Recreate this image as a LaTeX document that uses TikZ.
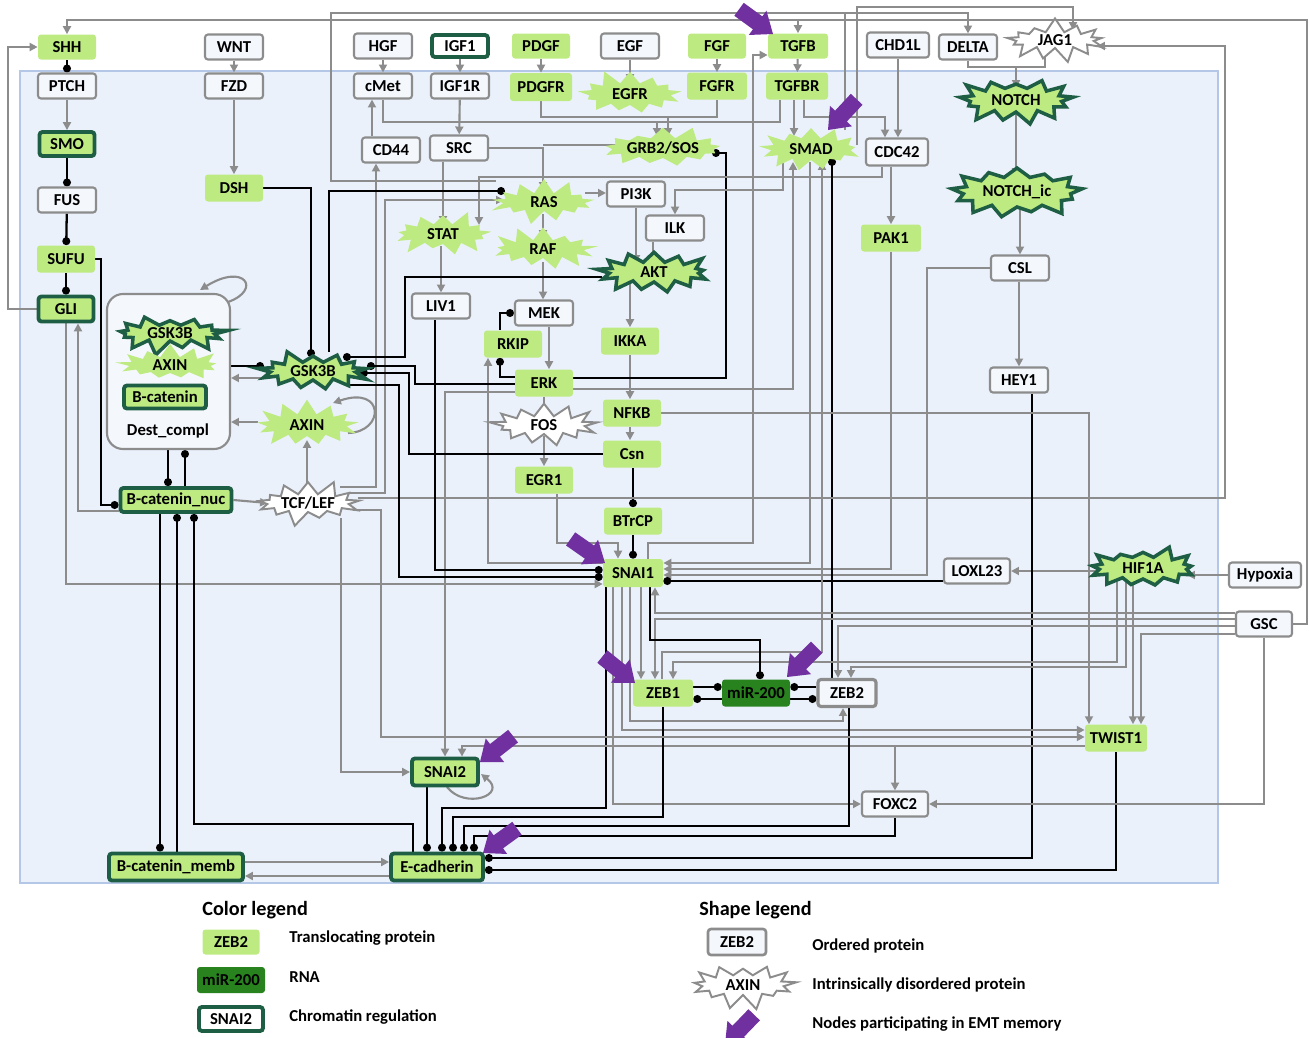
\documentclass[tikz,border=0pt]{standalone}
\usepackage{fontspec}
\setmainfont{Carlito}
\usetikzlibrary{arrows.meta,shapes.symbols,positioning}

\definecolor{leafgreen}{RGB}{190,234,130}
\definecolor{chromgreen}{RGB}{30,94,68}
\definecolor{rnagreen}{RGB}{40,130,30}
\definecolor{wiregray}{RGB}{140,140,140}
\definecolor{cellblue}{RGB}{234,241,251}
\definecolor{celledge}{RGB}{180,199,231}
\definecolor{boxwhite}{RGB}{244,247,252}
\definecolor{emtpurple}{RGB}{112,48,160}

\newdimen\unitpx
\unitpx=0.02cm
\newcommand{\nodefont}{\fontsize{9.5}{10}\selectfont\bfseries}
\newcommand{\legendfont}{\fontsize{9.5}{11}\selectfont\bfseries}
\newcommand{\titlefont}{\fontsize{11.5}{13}\selectfont\bfseries}

\pgfdeclarelayer{frame}
\pgfdeclarelayer{wires}
\pgfsetlayers{frame,wires,main}

\tikzset{
  gene/.style={rounded corners=3\unitpx, inner sep=0pt, minimum height=25\unitpx,
    minimum width=58\unitpx, font=\nodefont},
  ordered/.style={gene, draw=wiregray, line width=1.2pt, fill=boxwhite},
  transl/.style={gene, fill=leafgreen},
  chrom/.style={gene, fill=leafgreen, draw=chromgreen, line width=2.2pt},
  chromwhite/.style={chrom, fill=white},
  rna/.style={gene, fill=rnagreen},
  burst/.style={starburst, starburst points=13, starburst point height=15\unitpx,
    inner sep=0pt, font=\nodefont, miter limit=20},
  greenburst/.style={burst, fill=leafgreen},
  darkburst/.style={burst, fill=leafgreen, draw=chromgreen, line width=2pt},
  whiteburst/.style={burst, fill=white, draw=wiregray, line width=1.1pt},
  wire/.style={draw=wiregray, line width=1.2pt},
  act/.style={wire, -{Triangle[length=4.5pt, width=4.5pt]}},
  inh/.style={draw=black, line width=1.3pt, -{Circle[length=4.5pt]}},
  legtext/.style={font=\legendfont, anchor=west, inner sep=0pt},
  emt/.pic={\fill[emtpurple] (0,0) -- (-19,-15) -- (-19,-8) -- (-42,-8)
    -- (-42,8) -- (-19,8) -- (-19,15) -- cycle;}
}

\begin{document}
\begin{tikzpicture}[x=0.02cm, y=-0.02cm]

    \useasboundingbox (0,0) rectangle (1309,1038);

    % the cell
    \begin{pgfonlayer}{frame}
        \fill[cellblue] (20,71) rectangle (1218,883);
        \draw[celledge, line width=1.3pt] (20,71) rectangle (1218,883);
    \end{pgfonlayer}

    % ligands
    \node[transl] (SHH) at (67,47) {SHH};
    \node[ordered] (WNT) at (234,47) {WNT};
    \node[ordered] (HGF) at (383,46) {HGF};
    \node[chromwhite, minimum width=56\unitpx, minimum height=22\unitpx] (IGF1) at (460,46) {IGF1};
    \node[transl] (PDGF) at (541,46) {PDGF};
    \node[ordered] (EGF) at (630,46) {EGF};
    \node[transl] (FGF) at (717,46) {FGF};
    \node[transl, minimum width=60\unitpx] (TGFB) at (798,46) {TGFB};
    \node[ordered, minimum width=62\unitpx] (CHD1L) at (898,45) {CHD1L};
    \node[ordered] (DELTA) at (968,47) {DELTA};
    \node[whiteburst, minimum width=108\unitpx, minimum height=46\unitpx, random starburst=7] (JAG1) at (1055,40) {JAG1};

    % receptors
    \node[ordered] (PTCH) at (67,86) {PTCH};
    \node[ordered] (FZD) at (234,86) {FZD};
    \node[ordered] (cMet) at (383,86) {cMet};
    \node[ordered] (IGF1R) at (460,86) {IGF1R};
    \node[transl, minimum width=62\unitpx, minimum height=28\unitpx] (PDGFR) at (541,87) {PDGFR};
    \node[greenburst, minimum width=112\unitpx, minimum height=52\unitpx, random starburst=11] (EGFR) at (630,94) {EGFR};
    \node[transl, minimum width=60\unitpx, minimum height=27\unitpx] (FGFR) at (717,86) {FGFR};
    \node[transl, minimum width=62\unitpx, minimum height=27\unitpx] (TGFBR) at (797,86) {TGFBR};
    \node[darkburst, minimum width=122\unitpx, minimum height=54\unitpx, random starburst=23] (NOTCH) at (1016,100) {NOTCH};

    % signalling
    \node[chrom, minimum width=55\unitpx, minimum height=24\unitpx] (SMO) at (67,144) {SMO};
    \node[ordered] (CD44) at (391,150) {CD44};
    \node[ordered] (SRC) at (459,148) {SRC};
    \node[greenburst, minimum width=120\unitpx, minimum height=50\unitpx, random starburst=31] (GRB2) at (663,148) {GRB2/SOS};
    \node[greenburst, minimum width=110\unitpx, minimum height=52\unitpx, random starburst=41] (SMAD) at (811,149) {SMAD};
    \node[ordered, minimum width=62\unitpx, minimum height=27\unitpx] (CDC42) at (897,152) {CDC42};
    \node[transl, minimum height=27\unitpx] (DSH) at (234,188) {DSH};
    \node[ordered] (FUS) at (67,200) {FUS};
    \node[greenburst, minimum width=112\unitpx, minimum height=48\unitpx, random starburst=53] (RAS) at (544,202) {RAS};
    \node[ordered] (PI3K) at (636,194) {PI3K};
    \node[darkburst, minimum width=138\unitpx, minimum height=60\unitpx, random starburst=61] (NOTCHic) at (1017,192) {NOTCH\_ic};
    \node[greenburst, minimum width=108\unitpx, minimum height=50\unitpx, random starburst=71] (STAT) at (443,234) {STAT};
    \node[ordered] (ILK) at (675,228) {ILK};
    \node[transl, minimum width=60\unitpx, minimum height=27\unitpx] (PAK1) at (891,238) {PAK1};
    \node[greenburst, minimum width=112\unitpx, minimum height=48\unitpx, random starburst=83] (RAF) at (543,249) {RAF};
    \node[transl, minimum height=27\unitpx] (SUFU) at (66,259) {SUFU};
    \node[darkburst, minimum width=120\unitpx, minimum height=50\unitpx, random starburst=97] (AKT) at (654,272) {AKT};
    \node[ordered] (CSL) at (1020,268) {CSL};
    \node[chrom, minimum width=55\unitpx, minimum height=25\unitpx] (GLI) at (66,309) {GLI};
    \node[ordered] (LIV1) at (441,306) {LIV1};
    \node[ordered] (MEK) at (544,313) {MEK};

    % destruction complex
    \node[draw=wiregray, line width=1.2pt, fill=boxwhite, rounded corners=16\unitpx,
          minimum width=123\unitpx, minimum height=155\unitpx] (Dest) at (168.5,371.5) {};
    \node[darkburst, minimum width=120\unitpx, minimum height=46\unitpx, random starburst=13] (GSK3Bc) at (170,333) {GSK3B};
    \node[greenburst, minimum width=112\unitpx, minimum height=46\unitpx, random starburst=17] (AXINc) at (170,365) {AXIN};
    \node[chrom, minimum width=82\unitpx, minimum height=23\unitpx] (Bcat) at (165,397) {B-catenin};
    \node[font=\nodefont] (Destlabel) at (168,431) {Dest\_compl};

    \node[transl, minimum height=27\unitpx] (RKIP) at (513,344) {RKIP};
    \node[transl, minimum height=27\unitpx] (IKKA) at (630,341) {IKKA};
    \node[darkburst, minimum width=116\unitpx, minimum height=48\unitpx, random starburst=29] (GSK3B) at (313,371) {GSK3B};
    \node[transl, minimum height=27\unitpx] (ERK) at (544,383) {ERK};
    \node[ordered] (HEY1) at (1019,380) {HEY1};
    \node[transl, minimum height=27\unitpx] (NFKB) at (632,413) {NFKB};
    \node[whiteburst, minimum width=112\unitpx, minimum height=48\unitpx, random starburst=37] (FOS) at (544,425) {FOS};
    \node[greenburst, minimum width=110\unitpx, minimum height=52\unitpx, random starburst=43] (AXIN) at (307,425) {AXIN};
    \node[transl, minimum height=27\unitpx] (Csn) at (632,454) {Csn};
    \node[transl, minimum height=27\unitpx] (EGR1) at (544,480) {EGR1};
    \node[chrom, minimum width=111\unitpx, minimum height=24\unitpx] (Bnuc) at (176,500) {B-catenin\_nuc};
    \node[whiteburst, minimum width=112\unitpx, minimum height=48\unitpx, random starburst=47] (TCF) at (308,503) {TCF/LEF};
    \node[transl, minimum height=27\unitpx] (BTrCP) at (633,521) {BTrCP};

    % EMT transcription factors
    \node[transl, minimum width=60\unitpx, minimum height=28\unitpx] (SNAI1) at (633,573) {SNAI1};
    \node[ordered, minimum width=66\unitpx] (LOXL23) at (977,571) {LOXL23};
    \node[darkburst, minimum width=118\unitpx, minimum height=52\unitpx, random starburst=59] (HIF1A) at (1143,568) {HIF1A};
    \node[ordered, minimum width=72\unitpx] (Hypoxia) at (1265,575) {Hypoxia};
    \node[ordered, minimum width=56\unitpx] (GSC) at (1264,624) {GSC};
    \node[transl, minimum width=60\unitpx, minimum height=27\unitpx] (ZEB1) at (663,693) {ZEB1};
    \node[rna, minimum width=68\unitpx, minimum height=27\unitpx] (miR200) at (756,693) {miR-200};
    \node[ordered, line width=1.8pt, minimum height=27\unitpx] (ZEB2) at (847,693) {ZEB2};
    \node[transl, minimum width=62\unitpx, minimum height=27\unitpx] (TWIST1) at (1116,738) {TWIST1};
    \node[chrom, minimum width=66\unitpx, minimum height=27\unitpx] (SNAI2) at (445,772) {SNAI2};
    \node[ordered, minimum width=66\unitpx] (FOXC2) at (895,804) {FOXC2};
    \node[chrom, minimum width=134\unitpx, minimum height=27\unitpx] (Bmemb) at (176,867) {B-catenin\_memb};
    \node[chrom, minimum width=92\unitpx, minimum height=27\unitpx] (Ecad) at (437,867) {E-cadherin};

    \begin{pgfonlayer}{wires}
        % hedgehog
        \draw[inh] (SHH) -- (PTCH);
        \draw[act] (PTCH) -- (SMO);
        \draw[inh] (SMO) -- (FUS);
        \draw[inh] (FUS) -- (SUFU);
        \draw[inh] (SUFU) -- (GLI);
        \draw[act] (GLI.west) -| (8,47) -- (SHH.west);
        \draw[inh] (SUFU.east) -| (101,505) -- (Bnuc.west |- 0,505);
        \draw[act] (Bnuc.west |- 0,511) -| (GLI.south -| 78,0);
        \draw[act] (GLI.south) |- (SNAI1.west |- 0,584);

        % wnt
        \draw[act] (WNT) -- (FZD);
        \draw[act] (FZD) -- (DSH);
        \draw[inh] (DSH.east) -| (311,357);

        % receptors
        \draw[act] (HGF) -- (cMet);
        \draw[act] (IGF1) -- (IGF1R);
        \draw[act] (PDGF) -- (PDGFR);
        \draw[act] (EGF) -- (630,82);
        \draw[act] (FGF) -- (FGFR);
        \draw[act] (TGFB) -- (TGFBR);
        \draw[act] (CD44.north -| 372,0) -- (cMet.south -| 372,0);
        \draw[act] (IGF1R) -- (SRC);
        \draw[act] (cMet.south) |- (657,122) -- (657,136);
        \draw[act] (PDGFR.south) |- (668,117) -- (668,136);
        \draw[wire] (FGFR.south) |- (668,117);
        \draw[wire] (TGFBR.south -| 780,0) |- (657,122);
        \draw[act] (TGFBR.south -| 794,0) -- (794,136);
        \draw[act] (TGFBR.south -| 804,0) |- (885,117) -- (CDC42.north -| 885,0);
        \draw[act] (CHD1L.south -| 898,0) -- (CDC42.north -| 898,0);

        % ras / pi3k
        \draw[act] (SRC.east) -| (543,190);
        \draw[wire] (625,145) -- (543,145);
        \draw[act] (SRC.south -| 443,0) -- (443,224);
        \draw[act] (441,246) -- (LIV1.north -| 441,0);
        \draw[act] (585,193) -- (PI3K.west |- 0,193);
        \draw[act] (543,214) -- (543,238);
        \draw[act] (543,262) -- (MEK.north -| 543,0);
        \draw[act] (MEK.south -| 549,0) -- (ERK.north -| 549,0);
        \draw[act] (PI3K.south -| 636,0) -- (636,263);
        \draw[act] (ILK.south -| 653,0) -- (653,263);
        \draw[act] (630,284) -- (IKKA.north -| 630,0);
        \draw[act] (IKKA.south -| 630,0) -- (NFKB.north -| 630,0);
        \draw[act] (NFKB.south -| 630,0) -- (Csn.north -| 630,0);
        \draw[inh] (Csn.south -| 633,0) -- (BTrCP.north -| 633,0);
        \draw[inh] (BTrCP) -- (SNAI1);
        \draw[act] (ERK.south) -- (544,415);
        \draw[act] (544,436) -- (EGR1.north);
        \draw[act] (EGR1.south -| 557,0) |- (618,543) -- (SNAI1.north -| 618,0);
        \draw[inh] (RKIP.north -| 500,0) |- (MEK.west |- 0,313);
        \draw[inh] (ERK.west |- 0,377) -| (RKIP.south -| 500,0);
        \draw[act] (SNAI1.west |- 0,563) -| (RKIP.south -| 488,0);
        \draw[inh] (ERK.east |- 0,378) -| (726,153) -- (712,153);
        \draw[act] (ERK.east |- 0,389) -| (793,162);
        \draw[act] (SNAI1.north -| 648,0) |- (753,543) |- (TGFB.west |- 0,55);
        \draw[act] (CDC42.south -| 882,0) |- (479,177) -- (479,225);
        \draw[act] (783,160) |- (675,190) -- (ILK.north -| 675,0);
        \draw[act] (CDC42.south -| 891,0) -- (PAK1.north);

        % into snai1
        \draw[act] (810,162) |- (SNAI1.east |- 0,563);
        \draw[act] (PAK1.south) |- (SNAI1.east |- 0,569);
        \draw[act] (CSL.west) -| (927,575) -- (SNAI1.east |- 0,575);
        \draw[inh] (LOXL23.west |- 0,581) -- (SNAI1.east |- 0,581);
        \draw[act] (1098,571) -- (LOXL23.east);
        \draw[act] (Hypoxia.west) -- (1187,575);
        \draw[inh] (ZEB2.north -| 832,0) -- (832,158);
        \draw[act] (ZEB1.north -| 662,0) |- (822,652) -- (822,162);

        % top lines
        \draw[act] (857,145) |- (1073,7) -- (1073,30);
        \draw[act] (496,181) -| (331,13) -| (DELTA.north);
        \draw[wire] (845,130) -- (845,13);
        \draw[act] (GSC.east) -| (1307,20) -| (SHH.north);
        \draw[act] (798,20) -- (TGFB.north);
        \draw[act] (358,498) -| (1225,46) -- (1097,46);

        % notch
        \draw[act] (DELTA.south) |- (1016,67) -- (1016,88);
        \draw[wire] (1045,57) |- (1016,67);
        \draw[act] (1016,112) -- (1016,176);
        \draw[act] (1020,206) -- (CSL.north -| 1020,0);
        \draw[act] (CSL.south -| 1019,0) -- (HEY1.north -| 1019,0);
        \draw[inh] (HEY1.south -| 1032,0) |- (Ecad.east |- 0,858);
        \draw[inh] (TWIST1.south) |- (Ecad.east |- 0,870);

        % twist1, zeb, gsc, hif1a
        \draw[act] (NFKB.east) -| (TWIST1.north -| 1089,0);
        \draw[act] (1117,582) |- (673,662) -- (ZEB1.north -| 673,0);
        \draw[act] (1126,582) |- (851,667) -- (ZEB2.north -| 851,0);
        \draw[act] (1133,582) -- (TWIST1.north -| 1133,0);
        \draw[act] (GSC.west |- 0,613) -| (SNAI1.south -| 655,0);
        \draw[act] (GSC.west |- 0,619) -| (ZEB1.north -| 655,0);
        \draw[act] (GSC.west |- 0,626) -| (ZEB2.north -| 838,0);
        \draw[act] (GSC.west |- 0,634) -| (TWIST1.north -| 1141,0);
        \draw[act] (GSC.south) |- (FOXC2.east);
        \draw[act] (SNAI1.south -| 641,0) -- (ZEB1.north -| 641,0);
        \draw[inh] (SNAI1.south -| 650,0) |- (760,640) -- (miR200.north -| 760,0);
        \draw[act] (SNAI1.south -| 613,0) |- (FOXC2.west);
        \draw[act] (SNAI1.south -| 622,0) |- (TWIST1.west |- 0,730);
        \draw[act] (SNAI1.south -| 630,0) |- (843,721) -- (ZEB2.south -| 843,0);
        \draw[inh] (SNAI1.south -| 606,0) |- (442,808) -- (Ecad.north -| 442,0);
        \draw[inh] (ZEB1.east |- 0,687) -- (miR200.west |- 0,687);
        \draw[inh] (miR200.west |- 0,699) -- (ZEB1.east |- 0,699);
        \draw[inh] (ZEB2.west |- 0,687) -- (miR200.east |- 0,687);
        \draw[inh] (miR200.east |- 0,699) -- (ZEB2.west |- 0,699);
        \draw[act] (TWIST1.west |- 0,746) -| (SNAI2.north -| 462,0);
        \draw[act] (895,746) -- (FOXC2.north -| 895,0);

        % e-cadherin
        \draw[inh] (ZEB1.south -| 663,0) |- (453,817) -- (Ecad.north -| 453,0);
        \draw[inh] (ZEB2.south -| 849,0) |- (464,826) -- (Ecad.north -| 464,0);
        \draw[inh] (FOXC2.south) |- (474,836) -- (Ecad.north -| 474,0);
        \draw[inh] (SNAI2.south -| 427,0) -- (Ecad.north -| 427,0);
        \draw[inh] (Ecad.north -| 413,0) |- (194,824) -- (Bnuc.south -| 194,0);
        \draw[inh] (Bnuc.south -| 160,0) -- (Bmemb.north -| 160,0);
        \draw[inh] (Bmemb.north -| 177,0) -- (Bnuc.south -| 177,0);
        \draw[act] (Bmemb.east |- 0,862) -- (Ecad.west |- 0,862);
        \draw[act] (Ecad.west |- 0,876) -- (Bmemb.east |- 0,876);
        \draw[act] (447,787) .. controls (465,810) and (508,795) .. (481,774);

        % beta-catenin
        \draw[inh] (Dest.south -| 168,0) -- (Bnuc.north -| 168,0);
        \draw[inh] (Bnuc.north -| 185,0) -- (Dest.south -| 185,0);
        \draw[inh] (Dest.east |- 0,366) -- (264,366);
        \draw[act] (262,378) -- (Dest.east |- 0,378);
        \draw[act] (258,422) -- (Dest.east |- 0,422);
        \draw[act] (228,302) .. controls (262,290) and (245,262) .. (200,290);
        \draw[act] (348,433) .. controls (385,432) and (385,385) .. (333,403);
        \draw[act] (Bnuc.east) -- (268,503);
        \draw[act] (307,490) -- (307,440);
        \draw[act] (341,518) |- (SNAI2.west);
        \draw[act] (353,510) -| (381,737) -- (TWIST1.west |- 0,737);
        \draw[act] (340,487) -| (CD44.south -| 376,0);
        \draw[act] (348,493) -| (385,200) -- (504,200);
        \draw[act] (ERK.west |- 0,392) -| (SNAI2.north -| 445,0);

        % gsk3b
        \draw[inh] (602,277) -| (405,357) -- (343,357);
        \draw[inh] (ERK.west |- 0,384) -| (415,366) -- (367,366);
        \draw[inh] (Csn.west) -| (409,373) -- (360,373);
        \draw[inh] (345,385) -| (399,577) -- (SNAI1.west |- 0,577);
        \draw[inh] (LIV1.south -| 435,0) |- (SNAI1.west |- 0,570);
        \draw[inh] (329,352) |- (505,191);
    \end{pgfonlayer}

    % EMT memory marks
    \pic[rotate=-36] at (773,34) {emt};
    \pic[rotate=-133] at (828,130) {emt};
    \pic[rotate=-35] at (605,563) {emt};
    \pic[rotate=-39] at (635,683) {emt};
    \pic[rotate=-135] at (787,677) {emt};
    \pic[rotate=-142] at (480,762) {emt};
    \pic[rotate=-144] at (483,853) {emt};

    % legend
    \node[font=\titlefont, anchor=west, inner sep=0pt] (ColorTitle) at (202,910) {Color legend};
    \node[transl, minimum width=57\unitpx] (LegTransl) at (231,942) {ZEB2};
    \node[rna, minimum width=68\unitpx, minimum height=26\unitpx] (LegRna) at (231,980) {miR-200};
    \node[chromwhite, minimum width=64\unitpx, minimum height=24\unitpx] (LegChrom) at (231,1019) {SNAI2};
    \node[legtext] at (289,938) {Translocating protein};
    \node[legtext] at (289,977) {RNA};
    \node[legtext] at (289,1017) {Chromatin regulation};

    \node[font=\titlefont, anchor=west, inner sep=0pt] (ShapeTitle) at (699,910) {Shape legend};
    \node[ordered, line width=1.5pt, minimum height=26\unitpx] (LegOrdered) at (737,942) {ZEB2};
    \node[whiteburst, minimum width=112\unitpx, minimum height=50\unitpx, random starburst=19] (LegBurst) at (743,985) {AXIN};
    \pic[rotate=-134] at (725,1045) {emt};
    \node[legtext] at (812,946) {Ordered protein};
    \node[legtext] at (812,985) {Intrinsically disordered protein};
    \node[legtext] at (812,1024) {Nodes participating in EMT memory};

\end{tikzpicture}
\end{document}
